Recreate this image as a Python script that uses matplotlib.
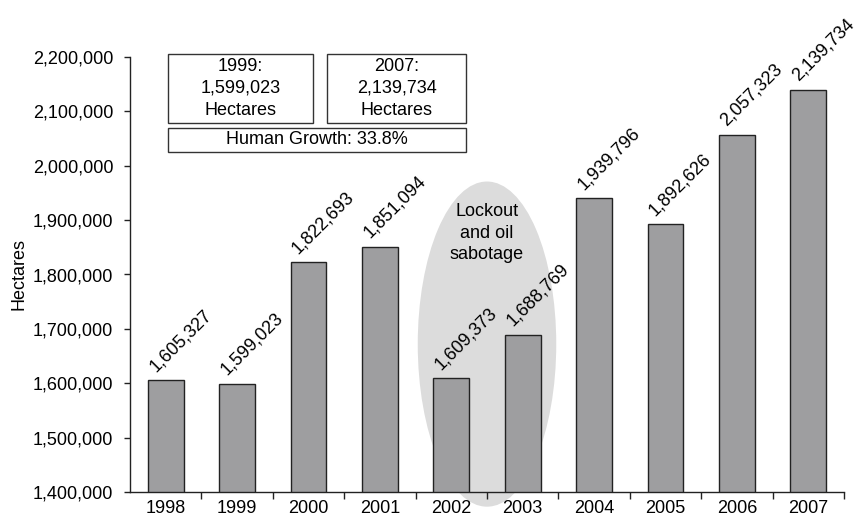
import matplotlib
matplotlib.use("Agg")
import matplotlib.pyplot as plt
from matplotlib.patches import Ellipse, Rectangle
from matplotlib.ticker import FuncFormatter, FixedLocator, NullFormatter

plt.rcParams['font.family'] = ['Liberation Sans', 'DejaVu Sans']

years = ["1998", "1999", "2000", "2001", "2002", "2003", "2004", "2005", "2006", "2007"]
hectares = [1605327, 1599023, 1822693, 1851094, 1609373, 1688769,
            1939796, 1892626, 2057323, 2139734]
y_ticks = [1400000, 1500000, 1600000, 1700000, 1800000, 1900000,
           2000000, 2100000, 2200000]
note_text = "Lockout\nand oil\nsabotage"
box_left = "1999:\n1,599,023\nHectares"
box_right = "2007:\n2,139,734\nHectares"
box_growth = "Human Growth: 33.8%"

FS = 13

W, H = 856, 521
fig = plt.figure(figsize=(W / 100, H / 100), dpi=100)
ax = fig.add_axes([130 / W, 1 - 492 / H, (844 - 130) / W, (492 - 57) / H])

x = list(range(len(years)))
ax.bar(x, hectares, width=0.5, color="#9e9ea0", edgecolor="#222222",
       linewidth=1.0, zorder=3)

ax.set_xlim(-0.5, len(years) - 0.5)
ax.set_ylim(y_ticks[0], y_ticks[-1])

# shaded period 2002-2003
ell = Ellipse((4.5, 1672000), width=1.94, height=598000, facecolor="#dcdcdc",
              edgecolor="none", zorder=1, clip_on=False)
ax.add_patch(ell)
ax.text(4.5, 1876000, note_text, ha="center", va="center", fontsize=FS,
        linespacing=1.35, zorder=4)

# value labels
for xi, v in zip(x, hectares):
    ax.annotate(f"{v:,}", xy=(xi, v), xytext=(-14, 4), textcoords="offset points",
                rotation=45, ha="left", va="bottom", fontsize=FS, zorder=4)

# axes styling
for s in ("top", "right"):
    ax.spines[s].set_visible(False)
for s in ("left", "bottom"):
    ax.spines[s].set_color("#222222")
    ax.spines[s].set_linewidth(1.0)
ax.spines["bottom"].set_zorder(5)

ax.yaxis.set_major_locator(FixedLocator(y_ticks))
ax.yaxis.set_major_formatter(FuncFormatter(lambda v, p: f"{int(v):,}"))
ax.tick_params(axis="y", direction="out", length=4, width=1, color="#222222",
               labelsize=FS, pad=8)

ax.set_xticks(x)
ax.set_xticklabels(years, fontsize=FS)
ax.tick_params(axis="x", which="major", length=0, pad=6)
ax.set_xticks([i + 0.5 for i in range(len(years))], minor=True)
ax.xaxis.set_minor_formatter(NullFormatter())
ax.tick_params(axis="x", which="minor", direction="out", length=5, width=1,
               color="#222222")

ax.set_ylabel("Hectares", fontsize=FS, labelpad=3.5)

# summary boxes (figure pixel coordinates)
def fig_box(x0, y0, x1, y1, text):
    r = Rectangle((x0 / W, 1 - y1 / H), (x1 - x0) / W, (y1 - y0) / H,
                  transform=fig.transFigure, facecolor="white",
                  edgecolor="#333333", linewidth=1.0, zorder=10)
    fig.patches.append(r)
    fig.text((x0 + x1) / 2 / W, 1 - (y0 + y1) / 2 / H, text, ha="center",
             va="center", fontsize=FS, linespacing=1.35, zorder=11)

fig_box(168, 54, 313, 123, box_left)
fig_box(327, 54, 466, 123, box_right)
fig_box(168, 128, 466, 152, box_growth)

fig.savefig("out.png", dpi=100)
